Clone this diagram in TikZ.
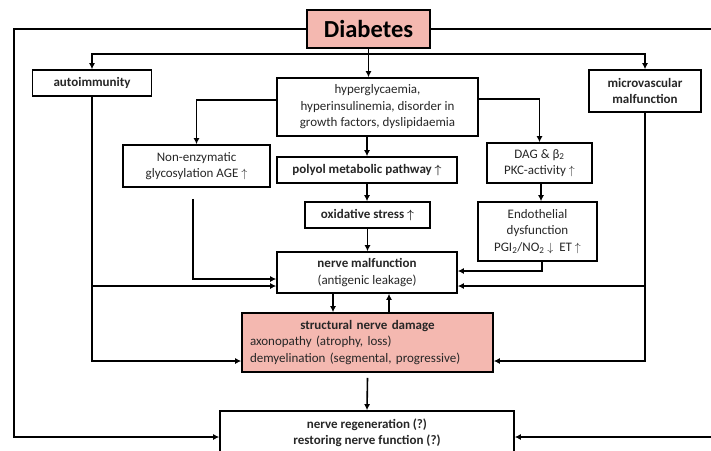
\documentclass[tikz,border=0pt]{standalone}
\usepackage{amsmath}
\usepackage{fontspec}
\setmainfont{Carlito}
\usetikzlibrary{arrows.meta}
\definecolor{rose}{RGB}{244,184,176}

\begin{document}
\begin{tikzpicture}[x=1pt,y=-1pt,line width=1.6pt,
  box/.style={draw,inner sep=2pt,align=center,text=black!85,font=\fontsize{13}{16.5}\selectfont},
  arr/.style={-{Latex[length=6pt,width=6pt]}}]
\useasboundingbox (0,0) rectangle (711,450);
% boxes
\node[box,fill=rose,minimum width=123pt,minimum height=38pt,text=black,font=\fontsize{24.5}{26}\selectfont\bfseries] (diab) at (368.5,29) {Diabetes};
\node[box,minimum width=119pt,minimum height=26pt] (auto) at (92,83) {\textbf{autoimmunity}};
\node[box,minimum width=112pt,minimum height=42pt] (micro) at (645,91) {\textbf{microvascular}\\\textbf{malfunction}};
\node[box,minimum width=201pt,minimum height=58pt] (hyper) at (377.5,107) {hyperglycaemia,\\hyperinsulinemia, disorder in\\growth factors, dyslipidaemia};
\node[box,minimum width=147pt,minimum height=42pt] (nonenz) at (196.5,166) {Non-enzymatic\\glycosylation AGE $\uparrow$};
\node[box,minimum width=180pt,minimum height=26pt] (polyol) at (367,170) {\textbf{polyol metabolic pathway $\boldsymbol{\uparrow}$}};
\node[box,minimum width=125pt,minimum height=26pt] (oxid) at (367.5,215) {\textbf{oxidative stress $\boldsymbol{\uparrow}$}};
\node[box,minimum width=105pt,minimum height=40pt] (dag) at (539.5,163) {DAG \& β\textsubscript{2}\\PKC-activity $\uparrow$};
\node[box,minimum width=119pt,minimum height=59pt] (endo) at (537.5,231.5) {Endothelial\\dysfunction\\PGI\textsubscript{2}/NO\textsubscript{2} $\downarrow$\ \ ET $\uparrow$};
\node[box,minimum width=180pt,minimum height=41pt] (nerve) at (367,272.5) {\textbf{nerve malfunction}\\(antigenic leakage)};
\node[box,fill=rose,minimum width=251pt,minimum height=59pt,text width=235pt,align=left] (struct) at (367.5,342.5)
  {\hfill\textbf{structural nerve damage}\hfill\null\\axonopathy (atrophy, loss)\\demyelination (segmental, progressive)};
\node[box,minimum width=294pt,minimum height=44pt] (regen) at (367,433) {\textbf{nerve regeneration (?)}\\\textbf{restoring nerve function (?)}};
% helper points
\coordinate (br) at (368.5,54);
\coordinate (lt) at (14,437);
\coordinate (rt) at (720,437);
\coordinate (na) at ([yshift=-13.5pt]nerve.west);
\coordinate (nb) at ([yshift=-13.5pt]nerve.east);
\coordinate (d1) at ([xshift=-34pt]nerve.south);
\coordinate (u1) at ([xshift=21.5pt]struct.north);
% connectors
\draw[arr] (diab.west) -| (lt) -- (lt -| regen.west);
\draw[arr] (diab.east) -| (rt) -- (rt -| regen.east);
\draw[arr] (diab.south) -- (diab.south |- hyper.north);
\draw[arr] (br) -| (auto.north);
\draw[arr] (br) -| (micro.north);
\draw[arr] ([yshift=7pt]hyper.west) -| (nonenz.north);
\draw[arr] ([yshift=8pt]hyper.east) -| (dag.north);
\draw[arr] (polyol.north |- hyper.south) -- (polyol.north);
\draw[arr] (polyol.south) -- (polyol.south |- oxid.north);
\draw[arr] (oxid.south) -- (oxid.south |- nerve.north);
\draw[arr] ([xshift=1.5pt]dag.south) -- ([xshift=1.5pt]dag.south |- endo.north);
\draw[arr] ([xshift=-3.5pt,yshift=-11pt]nonenz.south) |- ([yshift=-6.5pt]nerve.west);
\draw[arr] ([xshift=4.5pt]endo.south) |- ([yshift=1.5pt]nerve.east);
\draw[arr] (auto.south) |- ([yshift=-18.5pt]struct.west);
\draw[arr] (auto.south |- na) -- (na);
\draw[arr] (micro.south) |- ([yshift=-18.5pt]struct.east);
\draw[arr] (micro.south |- nb) -- (nb);
\draw[arr] (d1) -- (d1 |- struct.north);
\draw[arr] (u1) -- (u1 |- nerve.south);
\draw[arr] ([yshift=-5pt]struct.south) -- (regen.north);
\end{tikzpicture}
\end{document}
